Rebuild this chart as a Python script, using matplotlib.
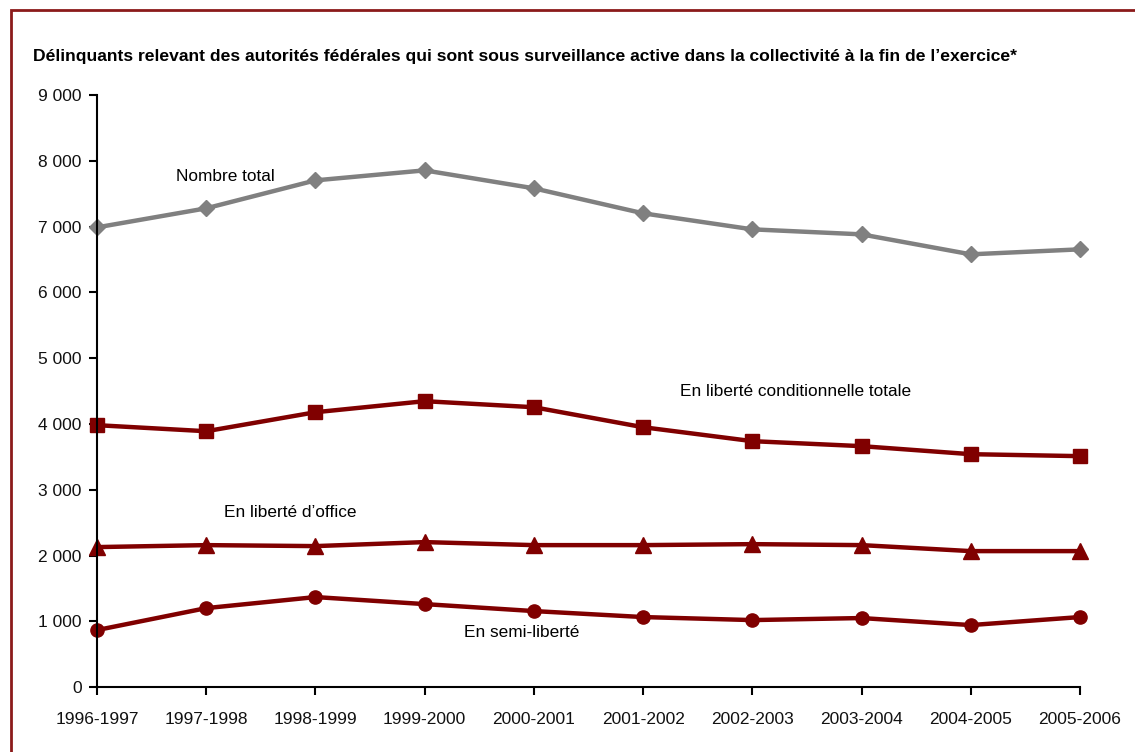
import matplotlib.pyplot as plt
from matplotlib.patches import Rectangle

years = ['1996-1997', '1997-1998', '1998-1999', '1999-2000', '2000-2001',
         '2001-2002', '2002-2003', '2003-2004', '2004-2005', '2005-2006']
total = [6990, 7280, 7705, 7857, 7584, 7204, 6960, 6884, 6580, 6656]
parole_total = [3982, 3890, 4179, 4347, 4255, 3951, 3739, 3663, 3541, 3511]
statutory = [2128, 2158, 2143, 2204, 2158, 2158, 2173, 2158, 2067, 2067]
day_parole = [866, 1200, 1368, 1261, 1155, 1064, 1018, 1049, 942, 1064]

title = ("Délinquants relevant des autorités fédérales qui sont sous surveillance "
         "active dans la collectivité à la fin de l’exercice*")

plt.rcParams['font.family'] = ['Liberation Sans Narrow', 'Liberation Sans', 'DejaVu Sans']

red = '#800000'
grey = '#808080'

fig = plt.figure(figsize=(11.35, 7.52), dpi=100)
ax = fig.add_axes([0.0855, 0.0864, 0.866, 0.787])

x = list(range(len(years)))
ax.plot(x, total, color=grey, lw=3.2, marker='D', ms=8.5, clip_on=False)
ax.plot(x, parole_total, color=red, lw=3.2, marker='s', ms=9.5, clip_on=False)
ax.plot(x, statutory, color=red, lw=3.2, marker='^', ms=11, clip_on=False)
ax.plot(x, day_parole, color=red, lw=3.2, marker='o', ms=9.5, clip_on=False)

ax.text(0.72, 7768, 'Nombre total', fontsize=12.4, va='center')
ax.text(5.34, 4500, 'En liberté conditionnelle totale', fontsize=12.4, va='center')
ax.text(1.16, 2660, 'En liberté d’office', fontsize=12.4, va='center')
ax.text(3.36, 836, 'En semi-liberté', fontsize=12.4, va='center')

ax.set_xlim(0, 9)
ax.set_ylim(0, 9000)
ax.set_xticks(x)
ax.set_xticklabels(years, fontsize=12.5)
ax.set_yticks(range(0, 9001, 1000))
ax.set_yticklabels(['0'] + ['{} 000'.format(i) for i in range(1, 10)], fontsize=12.5)
ax.tick_params(length=6, width=1.5, color='black', labelcolor='#111111')
ax.tick_params(axis='x', pad=12)
ax.tick_params(axis='y', pad=5)
for s in ['top', 'right']:
    ax.spines[s].set_visible(False)
for s in ['left', 'bottom']:
    ax.spines[s].set_linewidth(1.5)

fig.text(33 / 1135, 1 - 57 / 752, title, fontsize=12.6, fontweight='bold', va='center')

fig.patches.append(Rectangle((11 / 1135, -0.1), 1.2, 1 - 10 / 752 + 0.1,
                             transform=fig.transFigure, fill=False,
                             edgecolor='#8b1a1a', lw=2))

fig.savefig('out.png', dpi=100)
